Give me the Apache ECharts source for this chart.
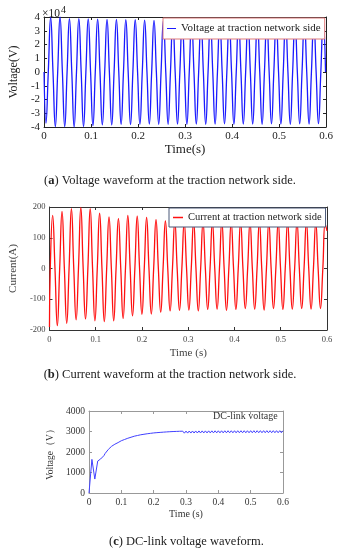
<!DOCTYPE html>
<html>
<head>
<meta charset="utf-8">
<script src="https://cdn.jsdelivr.net/npm/echarts@6/dist/echarts.min.js"></script>
<style>html,body{margin:0;padding:0;background:#fff}#c{width:340px;height:550px}</style>
</head>
<body>
<div id="c"></div>
<script>
// ---------- data ----------
const timeTicks = [0, 0.1, 0.2, 0.3, 0.4, 0.5, 0.6];

// (a) voltage: successive extremes (V), trough first, every half cycle (0.01 s) starting at 0.004 s
const voltageStart = 0;
const voltageFirstExtremeT = 0.004;
const voltageHalfPeriod = 0.01;
const voltageExtremes = [
  -37200, 39800, -39700, 40000, -39700, 38800, -40000, 38800, -39700, 38700,
  -39000, 38500, -38500, 38200, -38500, 38200, -38000, 38000, -38200, 38000,
  -38000, 37800, -37800, 37600, -38000, 37600, -38000, 37600, -37800, 37500,
  -38000, 37600, -37800, 37600, -38000, 37500, -37800, 37600, -37700, 37600,
  -38000, 37500, -37800, 37600, -37800, 37600, -38000, 37500, -37700, 37600,
  -37800, 37600, -38000, 37500, -37700, 37600, -37800, 37600, -37600, 38000
];

// (b) current: start value, successive extremes (A), peak first, then value at 0.6 s
const currentStart = -190;
const currentFirstExtremeT = 0.0068;
const currentHalfPeriod = 0.01016;
const currentExtremes = [
  173, -186, 186, -178, 195, -167, 199, -164, 195, -170,
  180, -173, 168, -170, 162, -162, 173, -154, 170, -149,
  166, -148, 159, -142, 155, -138, 153, -136, 150, -135,
  152, -138, 150, -133, 150, -132, 152, -136, 150, -133,
  150, -130, 150, -132, 152, -135, 150, -130, 150, -133,
  150, -132, 150, -130, 150, -132, 148, -130, 145
];
const currentEnd = 122;

// (c) DC-link voltage: start-up transient, then samples every 0.005 s from 0.05 s
const dcEarlyT = [0, 0.009, 0.018, 0.027, 0.036, 0.046];
const dcEarlyV = [0, 1640, 680, 1560, 1660, 1820];
const dcRippleStartT = 0.05;
const dcRippleStep = 0.005;
const dcRippleV = [
  1930, 1970, 2130, 2150, 2280, 2270, 2380, 2360, 2460, 2435,
  2550, 2480, 2610, 2540, 2670, 2595, 2720, 2645, 2770, 2690,
  2805, 2725, 2840, 2755, 2865, 2780, 2890, 2800, 2910, 2820,
  2930, 2837, 2944, 2850, 2956, 2862, 2968, 2874, 2980, 2885,
  2990, 2894, 2998, 2901, 3004, 2907, 3010, 2913, 3016, 2918,
  3020, 2922, 3023, 2924, 3025, 2926, 3026, 2927, 3028, 2928,
  3029, 2930, 3030, 2931, 3031, 2932, 3032, 2933, 3033, 2934,
  3034, 2935, 3035, 2935, 3035, 2936, 3036, 2936, 3036, 2937,
  3037, 2937, 3037, 2938, 3038, 2938, 3038, 2938, 3038, 2939,
  3039, 2939, 3039, 2939, 3039, 2940, 3040, 2940, 3040, 2940,
  3040, 2940, 3040, 2940, 3040, 2940, 3040, 2940, 3040, 2940, 3040
];

const voltageTicks = [-4, -3, -2, -1, 0, 1, 2, 3, 4];
const currentTicks = [-200, -100, 0, 100, 200];
const dcTicks = [0, 1000, 2000, 3000, 4000];

// ---------- build series points (extremes with zero crossings between) ----------
const voltData = [[0, voltageStart]];
voltageExtremes.forEach((v, i) => {
  const t = voltageFirstExtremeT + i * voltageHalfPeriod;
  voltData.push([t, v]);
  voltData.push([t + voltageHalfPeriod / 2, 0]);
});
const curData = [[0, currentStart], [currentFirstExtremeT - currentHalfPeriod / 2, 0]];
currentExtremes.forEach((v, i) => {
  const t = currentFirstExtremeT + i * currentHalfPeriod;
  curData.push([t, v]);
  if (i < currentExtremes.length - 1) curData.push([t + currentHalfPeriod / 2, 0]);
});
curData.push([0.6, currentEnd]);
const dcData = dcEarlyT.map((t, i) => [t, dcEarlyV[i]]);
dcRippleV.forEach((v, i) => dcData.push([+(dcRippleStartT + i * dcRippleStep).toFixed(4), v]));

// ---------- chart ----------
const SERIF = 'Liberation Serif';
function xPair(gi, fs, margin, color, lineColor, nameGap, name, nfs) {
  const base = {
    type: 'value', gridIndex: gi, min: 0, max: 0.6, interval: 0.1,
    splitLine: { show: false },
    axisLine: { show: true, onZero: false, lineStyle: { color: lineColor, width: 1 } },
    axisTick: { show: true, inside: true, length: 3, lineStyle: { color: lineColor } }
  };
  return [
    Object.assign({}, base, {
      position: 'bottom', name: name, nameLocation: 'middle', nameGap: nameGap,
      nameTextStyle: { fontFamily: SERIF, fontSize: nfs, color: color },
      axisLabel: { show: true, margin: margin, fontFamily: SERIF, fontSize: fs, color: color,
        formatter: v => String(+v.toFixed(1)) }
    }),
    Object.assign({}, base, { position: 'top', axisLabel: { show: false } })
  ];
}
function yPair(gi, min, max, interval, fs, margin, color, lineColor, nameGap, name, fmt, nfs) {
  const base = {
    type: 'value', gridIndex: gi, min: min, max: max, interval: interval,
    splitLine: { show: false },
    axisLine: { show: true, onZero: false, lineStyle: { color: lineColor, width: 1 } },
    axisTick: { show: true, inside: true, length: 3, lineStyle: { color: lineColor } }
  };
  return [
    Object.assign({}, base, {
      position: 'left', name: name, nameLocation: 'middle', nameGap: nameGap,
      nameTextStyle: { fontFamily: SERIF, fontSize: nfs, color: color },
      axisLabel: { show: true, margin: margin, fontFamily: SERIF, fontSize: fs, color: color, formatter: fmt }
    }),
    Object.assign({}, base, { position: 'right', axisLabel: { show: false } })
  ];
}

const capStyle = { fontFamily: SERIF, fontSize: 12.5, fontWeight: 'normal', color: '#222',
  rich: { b: { fontFamily: SERIF, fontSize: 12.5, fontWeight: 'bold', color: '#222' } } };

const chart = echarts.init(document.getElementById('c'), null, { renderer: 'canvas' });
chart.setOption({
  animation: false,
  backgroundColor: '#fff',
  grid: [
    { left: 36, top: 17, width: 290, height: 110 },
    { left: 31, top: 207, width: 296, height: 123 },
    { left: 89, top: 411, width: 194, height: 82 }
  ],
  title: [
    { text: '×10{s|4}', left: 37, top: 0,
      textStyle: { fontFamily: SERIF, fontSize: 11.5, fontWeight: 'normal', color: '#222',
        rich: { s: { fontFamily: SERIF, fontSize: 10, verticalAlign: 'top', padding: [0, 0, 7, 1], color: '#222' } } } },
    { text: '({b|a}) Voltage waveform at the traction network side.', left: 'center', top: 169, textStyle: capStyle },
    { text: '({b|b}) Current waveform at the traction network side.', left: 'center', top: 363, textStyle: capStyle },
    { text: '({b|c}) DC-link voltage waveform.', left: 104, top: 530, textStyle: capStyle }
  ],
  legend: [
    { data: ['Voltage at traction network side'], left: 163, top: 18, orient: 'horizontal',
      borderColor: '#e07a7a', borderWidth: 1, backgroundColor: '#fff', padding: [5, 4, 5, 4],
      icon: 'rect', itemWidth: 9, itemHeight: 1, itemGap: 0, selectedMode: false,
      textStyle: { fontFamily: SERIF, fontSize: 11, color: '#222' } },
    { data: ['Current at traction network side'], left: 169, top: 208, orient: 'horizontal',
      borderColor: '#4a5878', borderWidth: 1, backgroundColor: '#fff', padding: [4, 4, 4, 4],
      icon: 'rect', itemWidth: 10, itemHeight: 1.5, itemGap: 0, selectedMode: false,
      textStyle: { fontFamily: SERIF, fontSize: 10.5, color: '#222' } },
    { data: ['DC-link voltage'], left: 208, top: 411, orient: 'horizontal',
      padding: 0, icon: 'rect', itemWidth: 0, itemHeight: 0, selectedMode: false,
      textStyle: { fontFamily: SERIF, fontSize: 10, color: '#333' } }
  ],
  xAxis: [].concat(
    xPair(0, 11, 4, '#222', '#222', 10, 'Time(s)', 13),
    xPair(1, 8.5, 5, '#444', '#333', 18, 'Time (s)', 11),
    xPair(2, 9.5, 4, '#333', '#999', 16, 'Time (s)', 10)
  ),
  yAxis: [].concat(
    yPair(0, -40000, 40000, 10000, 11, 4, '#222', '#222', 20, 'Voltage(V)', v => String(Math.round(v / 10000)), 12),
    yPair(1, -200, 200, 100, 8.5, 4, '#444', '#333', 20, 'Current(A)', v => String(v), 11),
    yPair(2, 0, 4000, 1000, 9.5, 4, '#333', '#999', 26, 'Voltage（V）', v => String(v), 9.5)
  ),
  series: [
    { name: 'Voltage at traction network side', type: 'line', xAxisIndex: 0, yAxisIndex: 0,
      data: voltData, smooth: 0.5, symbol: 'none', lineStyle: { color: '#1a1aff', width: 1.3 },
      itemStyle: { color: '#1a1aff' } },
    { name: 'Current at traction network side', type: 'line', xAxisIndex: 2, yAxisIndex: 2,
      data: curData, smooth: 0.5, symbol: 'none', lineStyle: { color: '#ff1010', width: 1.3 },
      itemStyle: { color: '#ff1010' } },
    { name: 'DC-link voltage', type: 'line', xAxisIndex: 4, yAxisIndex: 4,
      data: dcData, symbol: 'none', lineStyle: { color: '#4040ff', width: 1 },
      itemStyle: { color: '#4040ff' } }
  ]
});
</script>
</body>
</html>
